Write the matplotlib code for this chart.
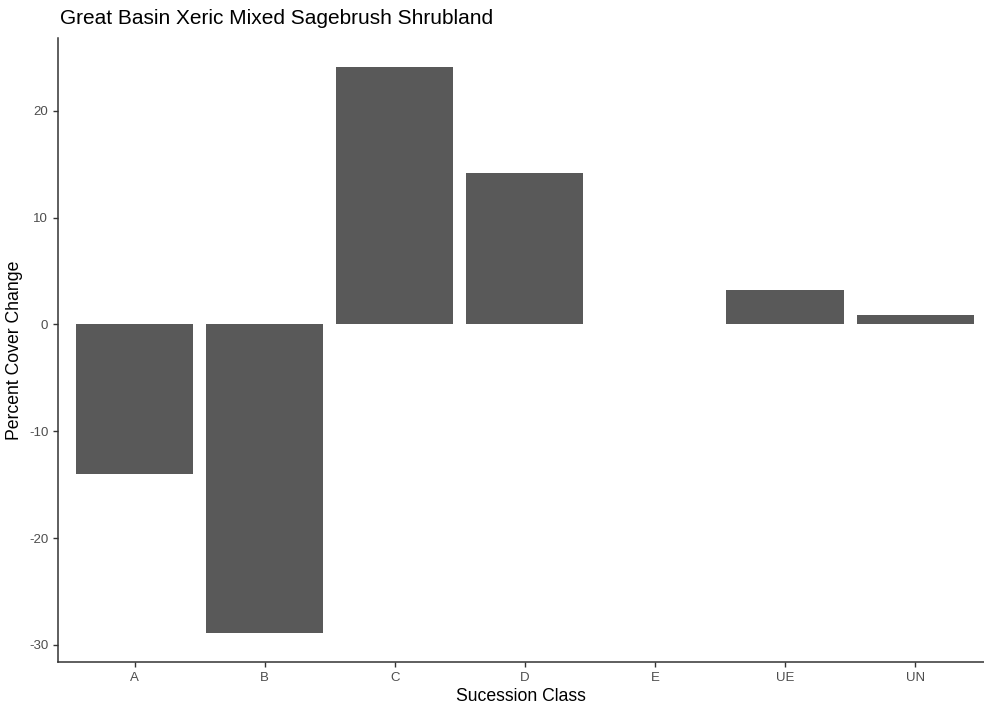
import numpy as np
import matplotlib.pyplot as plt

classes = ['A', 'B', 'C', 'D', 'E', 'UE', 'UN']
cover_change = [-14.0, -28.9, 24.1, 14.2, 0.0, 3.25, 0.85]

plt.rcParams['font.family'] = ['Liberation Sans', 'DejaVu Sans']
plt.rcParams['axes.unicode_minus'] = False

fig = plt.figure(figsize=(9.84, 7.06), dpi=100)
ax = fig.add_axes([58/984, 1 - 662/706, (984 - 58)/984, (662 - 38)/706])

x = np.arange(len(classes))
ax.bar(x, cover_change, width=0.9, color='#595959')

ax.set_xlim(-0.59, 6.53)
ax.set_ylim(-31.6, 26.8)
ax.set_xticks(x)
ax.set_xticklabels(classes)
ax.set_yticks([-30, -20, -10, 0, 10, 20])

ax.spines['right'].set_color('none')
ax.spines['top'].set_color('none')
for s in ['left', 'bottom']:
    ax.spines[s].set_color('#333333')
    ax.spines[s].set_linewidth(1.1)
ax.tick_params(colors='#333333', labelcolor='#4d4d4d', labelsize=9.5, length=3.5, width=1)

ax.set_xlabel('Sucession Class', fontsize=12.7, labelpad=3)
ax.set_ylabel('Percent Cover Change', fontsize=12.7, labelpad=4)
fig.text(60/984, 1 - 18/706, 'Great Basin Xeric Mixed Sagebrush Shrubland', fontsize=15, va='center', ha='left')

fig.savefig('out.png', dpi=100)
